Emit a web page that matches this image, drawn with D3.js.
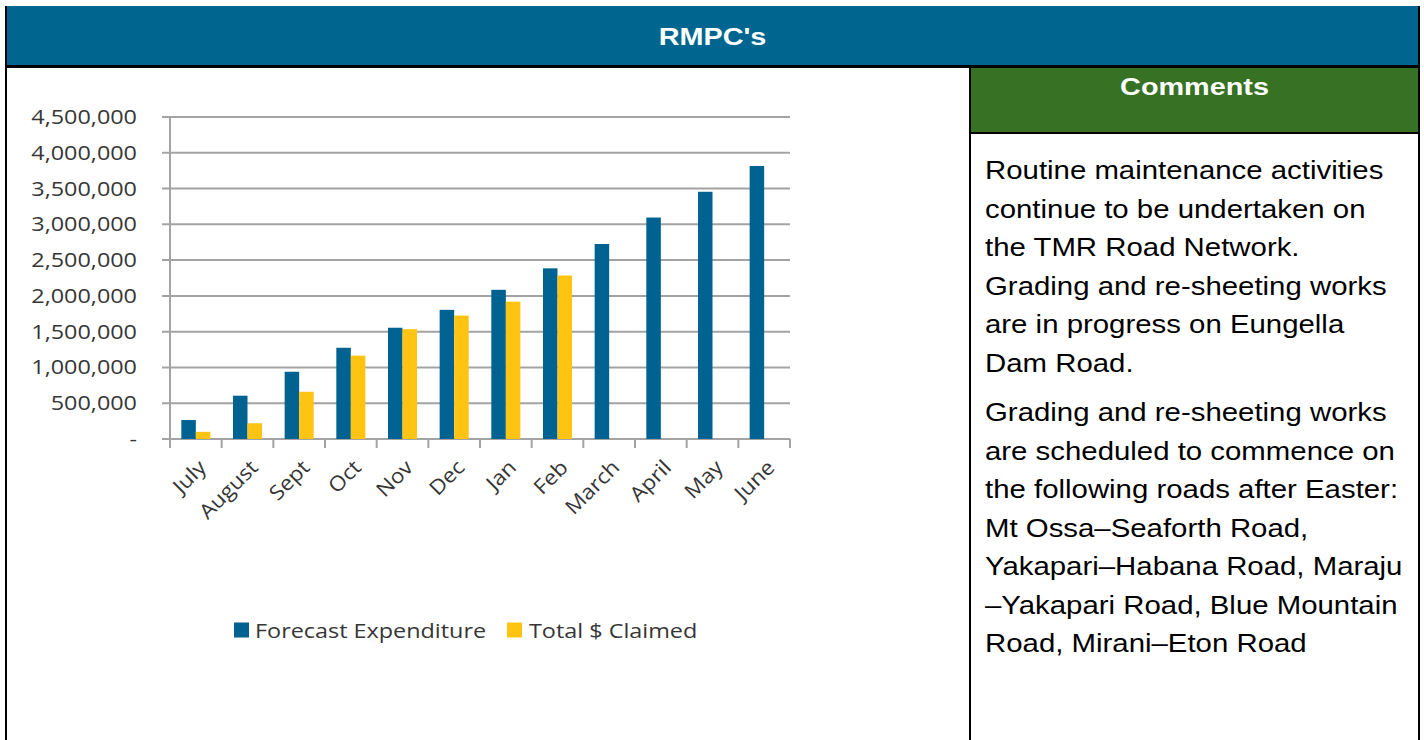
<!DOCTYPE html>
<html>
<head>
<meta charset="utf-8">
<script src="https://cdn.jsdelivr.net/npm/d3@7"></script>
<style>
  html, body { margin: 0; padding: 0; background: #ffffff; }
  svg { display: block; }
</style>
</head>
<body>
<svg id="chart" width="1424" height="740"></svg>
<script>
// ---- data ----
const months = ["July", "August", "Sept", "Oct", "Nov", "Dec", "Jan", "Feb", "March", "April", "May", "June"];
const forecastExpenditure = [265000, 605000, 940000, 1275000, 1555000, 1805000, 2085000, 2385000, 2725000, 3095000, 3455000, 3815000];
const totalClaimed = [100000, 220000, 660000, 1165000, 1535000, 1725000, 1920000, 2285000, null, null, null, null];
const seriesNames = ["Forecast Expenditure", "Total $ Claimed"];
const yTicks = [0, 500000, 1000000, 1500000, 2000000, 2500000, 3000000, 3500000, 4000000, 4500000];
const title = "RMPC's";
const commentsTitle = "Comments";
const commentParagraphs = [
  ["Routine maintenance activities", "continue to be undertaken on", "the TMR Road Network.", "Grading and re-sheeting works", "are in progress on Eungella", "Dam Road."],
  ["Grading and re-sheeting works", "are scheduled to commence on", "the following roads after Easter:", "Mt Ossa\u2013Seaforth Road,", "Yakapari\u2013Habana Road, Maraju", "\u2013Yakapari Road, Blue Mountain", "Road, Mirani\u2013Eton Road"]
];

// ---- styles ----
const BLUE_HEAD = "#00668f";
const GREEN_HEAD = "#377123";
const BAR_BLUE = "#006290";
const BAR_YELLOW = "#ffc412";
const GRID = "#a3a3a3";
const SX = 1.2; // horizontal stretch of the original picture's text
const colors = [BAR_BLUE, BAR_YELLOW];

const svg = d3.select("#chart");

// ---- table frame ----
svg.append("rect").attr("x", 7).attr("y", 6).attr("width", 1411).attr("height", 59).attr("fill", BLUE_HEAD);
svg.append("rect").attr("x", 971).attr("y", 68).attr("width", 447).attr("height", 64).attr("fill", GREEN_HEAD);
const black = "#000";
svg.append("rect").attr("x", 5).attr("y", 65).attr("width", 1415).attr("height", 3).attr("fill", black);
svg.append("rect").attr("x", 5).attr("y", 6).attr("width", 2).attr("height", 734).attr("fill", black);
svg.append("rect").attr("x", 1418).attr("y", 6).attr("width", 2).attr("height", 734).attr("fill", black);
svg.append("rect").attr("x", 969).attr("y", 68).attr("width", 2).attr("height", 672).attr("fill", black);
svg.append("rect").attr("x", 969).attr("y", 132).attr("width", 451).attr("height", 2).attr("fill", black);

function stretchedText(g, x, y, txt, opts) {
  return g.append("text")
    .attr("transform", `translate(${x},${y}) scale(${opts.sx || SX},1)`)
    .attr("text-anchor", opts.anchor || "start")
    .attr("font-family", opts.family || "'Liberation Sans', Arial, sans-serif")
    .attr("font-size", opts.size)
    .attr("font-weight", opts.weight || "normal")
    .attr("fill", opts.fill || "#000")
    .text(txt);
}

stretchedText(svg, 712.5, 44.5, title, {anchor: "middle", size: 24, weight: "bold", fill: "#fff"});
stretchedText(svg, 1194.5, 94.5, commentsTitle, {anchor: "middle", size: 24, weight: "bold", fill: "#fff"});

// comments text
const lineH = 38.5;
const paraStarts = [170, 412];
commentParagraphs.forEach((lines, p) => {
  lines.forEach((ln, i) => {
    stretchedText(svg, 985, paraStarts[p] + i * lineH + 9.3, ln, {size: 26, sx: 1.13, fill: "#000"});
  });
});

// ---- chart ----
const x0 = d3.scaleBand().domain(months).range([170, 790]).padding(0);
const x1 = d3.scaleBand().domain(seriesNames).range([0, x0.bandwidth()]).paddingInner(0).paddingOuter(0.78);
const y = d3.scaleLinear().domain([0, 4500000]).range([439, 117]);

const chartFont = "'Open Sans', 'Noto Sans', sans-serif";
const labelColor = "#363636";

// gridlines
svg.append("g").selectAll("line.grid").data(yTicks).join("line")
  .attr("class", "grid")
  .attr("x1", 162).attr("x2", 790)
  .attr("y1", d => y(d)).attr("y2", d => y(d))
  .attr("stroke", GRID).attr("stroke-width", 2);

// y axis line
svg.append("line").attr("x1", 170).attr("x2", 170).attr("y1", y(4500000)).attr("y2", 448)
  .attr("stroke", GRID).attr("stroke-width", 2);

// x ticks at band boundaries
const boundaries = months.map(m => x0(m)).concat([x0.range()[1]]);
svg.append("g").selectAll("line").data(boundaries).join("line")
  .attr("x1", d => d).attr("x2", d => d)
  .attr("y1", y(0)).attr("y2", y(0) + 9)
  .attr("stroke", GRID).attr("stroke-width", 2);

// y labels
const fmt = d3.format(",");
yTicks.forEach(t => {
  stretchedText(svg, 137, y(t) + 7, t === 0 ? "-" : fmt(t), {anchor: "end", size: 19.5, family: chartFont, fill: labelColor});
});

// bars
const table = months.map((m, i) => ({month: m, values: [forecastExpenditure[i], totalClaimed[i]]}));
const groups = svg.append("g").selectAll("g").data(table).join("g")
  .attr("transform", d => `translate(${x0(d.month)},0)`);
groups.selectAll("rect")
  .data(d => d.values.map((v, k) => ({key: seriesNames[k], v, k})).filter(e => e.v != null))
  .join("rect")
  .attr("x", e => x1(e.key))
  .attr("width", x1.bandwidth())
  .attr("y", e => y(e.v))
  .attr("height", e => y(0) - y(e.v))
  .attr("fill", e => colors[e.k]);

// x labels rotated
svg.append("g").selectAll("text").data(months).join("text")
  .attr("transform", d => `translate(${x0(d) + x0.bandwidth() / 2 + 6},${463}) rotate(-45) scale(1.1,1)`)
  .attr("text-anchor", "end")
  .attr("dominant-baseline", "central")
  .attr("font-family", chartFont)
  .attr("font-size", 20.5)
  .attr("fill", labelColor)
  .text(d => d);

// legend
const legendItems = [{name: seriesNames[0], x: 234, tx: 255}, {name: seriesNames[1], x: 507, tx: 529}];
legendItems.forEach((it, k) => {
  svg.append("rect").attr("x", it.x).attr("y", 622.5).attr("width", 15).attr("height", 15).attr("fill", colors[k]);
  stretchedText(svg, it.tx, 637.5, it.name, {size: 19.5, family: chartFont, fill: labelColor});
});
</script>
</body>
</html>
